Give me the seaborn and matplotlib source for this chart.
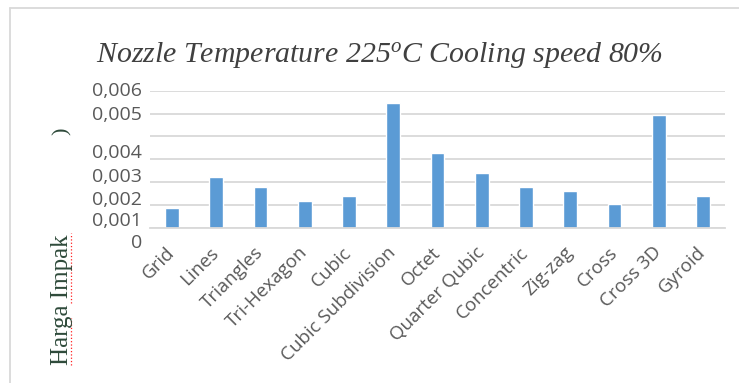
import numpy as np
import matplotlib
matplotlib.use("Agg")
import matplotlib.pyplot as plt
import matplotlib.transforms as mtransforms
from matplotlib.lines import Line2D
import seaborn as sns

# categories and impact values (read against the gridlines)
patterns = ["Grid", "Lines", "Triangles", "Tri-Hexagon", "Cubic", "Cubic Subdivision",
            "Octet", "Quarter Qubic", "Concentric", "Zig-zag", "Cross", "Cross 3D", "Gyroid"]
impact = [0.00084, 0.0022, 0.00179, 0.00118, 0.00138, 0.00545,
          0.00325, 0.0024, 0.00179, 0.00161, 0.00102, 0.00493, 0.00138]

# y labels as they sit in the picture (they are shifted against the gridlines)
ytick_labels = ["0,006", "0,005", "0,004", "0,003", "0,002", "0,001", "0"]
ytick_pos = [0.00599, 0.00493, 0.00325, 0.00223, 0.00121, 0.00029, -0.00069]
grid_ticks = [0, 0.001, 0.002, 0.003, 0.004, 0.005, 0.006]

sns.set_style("white")
plt.rcParams['font.family'] = ['Open Sans', 'DejaVu Sans']
plt.rcParams['mathtext.fontset'] = 'custom'
plt.rcParams['mathtext.it'] = 'Liberation Serif:italic'
plt.rcParams['mathtext.rm'] = 'Liberation Serif:italic'

fig = plt.figure(figsize=(7.39, 3.83), dpi=100)
ax = fig.add_axes([150 / 739, 1 - 227.5 / 383, 575 / 739, 136.8 / 383])

sns.barplot(x=patterns, y=impact, color="#5b9bd5", width=0.31, saturation=1, ax=ax)

ax.set_ylim(0, 0.006)
ax.set_yticks(grid_ticks)
ax.set_yticklabels([])
ax.yaxis.grid(True, color="#d9d9d9", lw=1.3)
ax.set_axisbelow(True)
ax.tick_params(axis="both", length=0)
for s in ["top", "right", "left"]:
    ax.spines[s].set_visible(False)
ax.spines["bottom"].set_color("#d9d9d9")
ax.spines["bottom"].set_linewidth(1.3)
ax.set_xlabel("")
ax.set_ylabel("")

ax.tick_params(axis="x", pad=16)
for lab in ax.get_xticklabels():
    lab.set_rotation(45)
    lab.set_ha("right")
    lab.set_va("center")
    lab.set_rotation_mode("anchor")
    lab.set_fontsize(13.5)
    lab.set_color("#595959")

trans = mtransforms.blended_transform_factory(ax.transAxes, ax.transData)
for lbl, pos in zip(ytick_labels, ytick_pos):
    ax.text(-0.014, pos, lbl, transform=trans, ha="right", va="center",
            fontsize=14, color="#595959", clip_on=False)

fig.text(380 / 739, 1 - 55 / 383,
         r"Nozzle Temperature 225$^{o}$C Cooling speed 80%",
         fontsize=21.5, style="italic", family="Liberation Serif",
         color="#404040", ha="center", va="center")

# axis title remnants
fig.text(62 / 739, 1 - 300 / 383, "Harga Impak", rotation=90, fontsize=18,
         family="Liberation Serif", color="#2e4a3a", ha="center", va="center")
fig.text(62 / 739, 1 - 131 / 383, ")", rotation=90, fontsize=16,
         family="Liberation Serif", color="#2e4a3a", ha="center", va="center")
fig.add_artist(Line2D([70.5 / 739, 70.5 / 739], [1 - 365 / 383, 1 - 318 / 383],
                      color="#ff2020", lw=0.9, ls=":"))
fig.add_artist(Line2D([70.5 / 739, 70.5 / 739], [1 - 303 / 383, 1 - 233 / 383],
                      color="#ff2020", lw=0.9, ls=":"))

# chart frame
fig.add_artist(Line2D([10 / 739, 1], [1 - 7.5 / 383, 1 - 7.5 / 383], color="#d9d9d9", lw=1.3))
fig.add_artist(Line2D([10 / 739, 10 / 739], [0, 1 - 7.5 / 383], color="#d9d9d9", lw=1.3))

fig.savefig("out.png", dpi=100)
